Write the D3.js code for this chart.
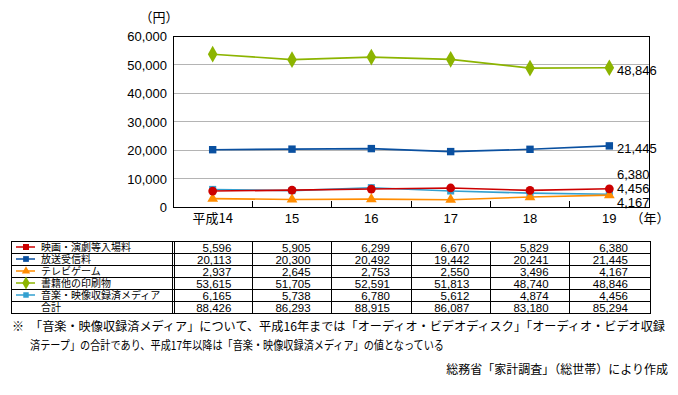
<!DOCTYPE html>
<html>
<head>
<meta charset="utf-8">
<script src="https://cdn.jsdelivr.net/npm/d3@7/dist/d3.min.js"></script>
<style>
  body { margin: 0; background: #fff; }
  text { font-family: "Liberation Sans", "Noto Sans CJK JP", sans-serif; fill: #000; }
  .jp { font-family: "Noto Sans CJK JP", sans-serif; }
</style>
</head>
<body>
<div class="chart"></div>
<script>
// Data
const years = ['平成14', '15', '16', '17', '18', '19'];
const seriesNames = ['映画・演劇等入場料', '放送受信料', 'テレビゲーム', '書籍他の印刷物', '音楽・映像収録済メディア'];
const movie = [5596, 5905, 6299, 6670, 5829, 6380];
const broadcast = [20113, 20300, 20492, 19442, 20241, 21445];
const videoGame = [2937, 2645, 2753, 2550, 3496, 4167];
const books = [53615, 51705, 52591, 51813, 48740, 48846];
const media = [6165, 5738, 6780, 5612, 4874, 4456];
const totals = [88426, 86293, 88915, 86087, 83180, 85294];
const yTicks = [0, 10000, 20000, 30000, 40000, 50000, 60000];
const noteLines = [
    '「音楽・映像収録済メディア」について、平成16年までは「オーディオ・ビデオディスク」「オーディオ・ビデオ収録',
    '済テープ」の合計であり、平成17年以降は「音楽・映像収録済メディア」の値となっている'
];
const sourceText = '総務省「家計調査」（総世帯）により作成';

const colors = ['#cc0000', '#0a50a0', '#ff8c00', '#8cb400', '#33a0d0'];
const symbols = [d3.symbolCircle, d3.symbolSquare, d3.symbolTriangle, d3.symbolDiamond, d3.symbolSquare];
const symSizes = [60, 55, 50, 80, 50];
const series = [movie, broadcast, videoGame, books, media].map((values, i) => ({
    name: seriesNames[i], values, color: colors[i], symbol: symbols[i], size: symSizes[i]
}));

const width = 678, height = 395;
const plot = { left: 173, right: 649, top: 36, bottom: 207 };
const fmt = d3.format(',');

const svg = d3.select('.chart').append('svg')
    .attr('width', width)
    .attr('height', height);

// Scales
const xScale = d3.scaleBand().domain(years).range([plot.left, plot.right]).padding(0);
const yScale = d3.scaleLinear().domain([0, 60000]).range([plot.bottom, plot.top]);
const cx = d => xScale(d) + xScale.bandwidth() / 2;

// Gridlines
svg.append('g').selectAll('line')
    .data(yTicks.filter(t => t > 0 && t < 60000))
    .join('line')
    .attr('x1', plot.left).attr('x2', plot.right)
    .attr('y1', d => yScale(d)).attr('y2', d => yScale(d))
    .attr('stroke', '#b4b4b4')
    .attr('stroke-width', 1)
    .attr('shape-rendering', 'crispEdges');

// Plot frame
svg.append('rect')
    .attr('x', plot.left).attr('y', plot.top)
    .attr('width', plot.right - plot.left).attr('height', plot.bottom - plot.top)
    .attr('fill', 'none').attr('stroke', '#000')
    .attr('shape-rendering', 'crispEdges');

// Inner x ticks at band boundaries
svg.append('g').selectAll('line')
    .data(years.slice(1))
    .join('line')
    .attr('x1', d => xScale(d)).attr('x2', d => xScale(d))
    .attr('y1', plot.bottom - 6).attr('y2', plot.bottom)
    .attr('stroke', '#000')
    .attr('shape-rendering', 'crispEdges');

// Y labels
svg.append('g').selectAll('text')
    .data(yTicks)
    .join('text')
    .attr('x', plot.left - 6)
    .attr('y', d => yScale(d) + 5)
    .attr('text-anchor', 'end')
    .style('font-size', '13px')
    .text(d => fmt(d));

svg.append('text').attr('class', 'jp')
    .attr('x', 159).attr('y', 22)
    .attr('text-anchor', 'middle')
    .style('font-size', '13px')
    .text('（円）');

// X labels
svg.append('g').selectAll('text')
    .data(years)
    .join('text')
    .attr('class', (d, i) => i === 0 ? 'jp' : null)
    .attr('x', d => cx(d))
    .attr('y', plot.bottom + 16)
    .attr('text-anchor', 'middle')
    .style('font-size', '13px')
    .text(d => d);

svg.append('text').attr('class', 'jp')
    .attr('x', 650).attr('y', 223)
    .attr('text-anchor', 'middle')
    .style('font-size', '13px')
    .text('（年）');

// Lines and markers (light blue drawn first so red sits above)
const line = d3.line().x((v, i) => cx(years[i])).y(v => yScale(v));
const drawOrder = [4, 3, 2, 1, 0];
drawOrder.forEach(si => {
    const s = series[si];
    svg.append('path')
        .datum(s.values)
        .attr('d', line)
        .attr('fill', 'none')
        .attr('stroke', s.color)
        .attr('stroke-width', 1.6);
});
drawOrder.forEach(si => {
    const s = series[si];
    svg.append('g').selectAll('path')
        .data(s.values)
        .join('path')
        .attr('transform', (v, i) => `translate(${cx(years[i])},${yScale(v)})`)
        .attr('d', d3.symbol().type(s.symbol).size(s.size))
        .attr('fill', s.color);
});

// End value labels (stacked from the bottom to avoid overlap)
const endLabels = series.map(s => ({ v: s.values[s.values.length - 1] }))
    .sort((a, b) => a.v - b.v);
let prevY = plot.bottom - 5;
endLabels.forEach((d, i) => {
    let y = yScale(d.v) + 2;
    if (i === 0) y = Math.max(y, prevY);
    else y = Math.min(y, prevY - 14);
    d.y = y;
    prevY = y;
});
svg.append('g').selectAll('text')
    .data(endLabels)
    .join('text')
    .attr('x', 617)
    .attr('y', d => d.y + 5)
    .style('font-size', '13px')
    .text(d => fmt(d.v));

// Data table
const table = { left: 11, top: 241, rowH: 12 };
const tableRows = series.map(s => ({ label: s.name, values: s.values, s }))
    .concat([{ label: '合計', values: totals, s: null }]);
const tableBottom = table.top + tableRows.length * table.rowH;
const tg = svg.append('g').attr('shape-rendering', 'crispEdges');

tg.append('rect')
    .attr('x', table.left).attr('y', table.top)
    .attr('width', plot.right + 1 - table.left).attr('height', tableBottom - table.top)
    .attr('fill', 'none').attr('stroke', '#000');

tg.selectAll('.hline')
    .data(d3.range(1, tableRows.length))
    .join('line')
    .attr('class', 'hline')
    .attr('x1', table.left).attr('x2', plot.right + 1)
    .attr('y1', i => table.top + i * table.rowH).attr('y2', i => table.top + i * table.rowH)
    .attr('stroke', '#000');

// double line after the label column, single lines between year columns
[plot.left - 1, plot.left + 1].forEach(x => {
    tg.append('line').attr('x1', x).attr('x2', x)
        .attr('y1', table.top).attr('y2', tableBottom).attr('stroke', '#000');
});
tg.selectAll('.vline')
    .data(years.slice(1))
    .join('line')
    .attr('class', 'vline')
    .attr('x1', d => xScale(d)).attr('x2', d => xScale(d))
    .attr('y1', table.top).attr('y2', tableBottom)
    .attr('stroke', '#000');

tableRows.forEach((row, r) => {
    const yMid = table.top + r * table.rowH + table.rowH / 2;
    if (row.s) {
        svg.append('line')
            .attr('x1', 16).attr('x2', 35)
            .attr('y1', yMid).attr('y2', yMid)
            .attr('stroke', row.s.color).attr('stroke-width', 1.5);
        svg.append('path')
            .attr('transform', `translate(26,${yMid})`)
            .attr('d', d3.symbol().type(row.s.symbol === d3.symbolCircle ? d3.symbolSquare : row.s.symbol).size(row.s.size * 0.6))
            .attr('fill', row.s.color);
    }
    svg.append('text').attr('class', 'jp')
        .attr('x', 41).attr('y', yMid + 4)
        .style('font-size', '10px')
        .text(row.label);
    svg.append('g').selectAll('text')
        .data(row.values)
        .join('text')
        .attr('x', (v, i) => xScale(years[i]) + xScale.bandwidth() - 21)
        .attr('y', yMid + 4.5)
        .attr('text-anchor', 'end')
        .style('font-size', '11.5px')
        .text(v => fmt(v));
});

// Notes
svg.append('text').attr('class', 'jp')
    .attr('x', 12).attr('y', 331)
    .style('font-size', '12px')
    .text('※');
const noteLengths = [635, 414];
svg.append('g').selectAll('text')
    .data(noteLines)
    .join('text')
    .attr('class', 'jp')
    .attr('x', 30)
    .attr('y', (d, i) => 331 + i * 19)
    .attr('textLength', (d, i) => noteLengths[i])
    .attr('lengthAdjust', 'spacingAndGlyphs')
    .style('font-size', '12px')
    .text(d => d);
svg.append('text').attr('class', 'jp')
    .attr('x', 668).attr('y', 374)
    .attr('text-anchor', 'end')
    .style('font-size', '12px')
    .text(sourceText);
</script>
</body>
</html>
